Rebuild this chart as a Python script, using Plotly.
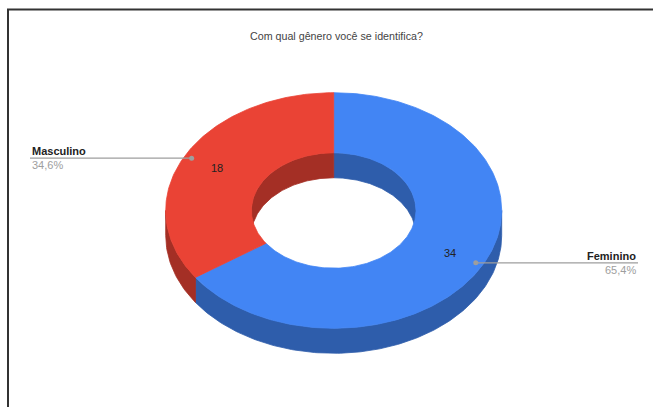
import numpy as np
import plotly.graph_objects as go

# Survey answers
labels = ["Feminino", "Masculino"]
values = [34, 18]
top_colors = ["#4285F4", "#EA4335"]
side_colors = ["#2E5DAB", "#A42F25"]
title_text = "Com qual gênero você se identifica?"

# Geometry of the tilted ring (pixel space of the canvas)
W, H = 653, 407
CX, CY = 333.7, 210.5
RX, RY = 168.0, 117.8
DEPTH = 25.0
HOLE = 0.49


def pt(theta_deg, frac, dz=0.0):
    t = np.radians(theta_deg)
    return CX + RX * frac * np.sin(t), CY - RY * frac * np.cos(t) + dz


def arc(a, b, frac, dz=0.0):
    th = np.linspace(a, b, max(int(abs(b - a)) + 2, 8))
    return pt(th, frac, dz)


def band(a, b, frac):
    """Vertical wall between an arc and the same arc pushed down by DEPTH."""
    x1, y1 = arc(a, b, frac)
    x2, y2 = arc(b, a, frac, DEPTH)
    return np.concatenate([x1, x2, x1[:1]]), np.concatenate([y1, y2, y1[:1]])


def sector(a, b):
    x1, y1 = arc(a, b, 1.0)
    x2, y2 = arc(b, a, HOLE)
    return np.concatenate([x1, x2, x1[:1]]), np.concatenate([y1, y2, y1[:1]])


def poly(x, y, color):
    return go.Scatter(x=x, y=y, mode="lines", fill="toself", fillcolor=color,
                      line=dict(color=color, width=0.8), hoverinfo="skip",
                      showlegend=False)


total = float(sum(values))
bounds = np.concatenate([[0.0], np.cumsum(values) / total * 360.0])
slices = list(zip(bounds[:-1], bounds[1:]))

fig = go.Figure()

# outer rim: front half (90..270 deg clockwise from top)
for (s, e), c in zip(slices, side_colors):
    a, b = max(s, 90.0), min(e, 270.0)
    if b > a:
        fig.add_trace(poly(*band(a, b, 1.0), c))

# inner wall: far half of the hole
for (s, e), c in zip(slices, side_colors):
    for lo, hi in ((-90.0, 90.0), (270.0, 450.0)):
        a, b = max(s, lo), min(e, hi)
        if b > a:
            fig.add_trace(poly(*band(a, b, HOLE), c))

# top faces
for (s, e), c in zip(slices, top_colors):
    fig.add_trace(poly(*sector(s, e), c))

annotations = []
shapes = []
label_font = "Liberation Sans, Arial, sans-serif"
for (s, e), lab, v in zip(slices, labels, values):
    mid = (s + e) / 2.0
    vx, vy = pt(mid, 0.785)
    annotations.append(dict(x=float(vx), y=float(vy), text=str(v), showarrow=False,
                            font=dict(family=label_font, size=11, color="#222222"),
                            xanchor="center", yanchor="middle"))
    dx, dy = pt(mid, 0.955)
    dx, dy = float(dx), float(dy)
    left = dx < CX
    end_x = 30.0 if left else 638.0
    shapes.append(dict(type="line", x0=dx, y0=dy, x1=end_x, y1=dy,
                       xref="x", yref="y", line=dict(color="#9E9E9E", width=1.2)))
    fig.add_trace(go.Scatter(x=[dx], y=[dy], mode="markers",
                             marker=dict(size=5, color="#9E9E9E"),
                             hoverinfo="skip", showlegend=False))
    pct = f"{v / total * 100:.1f}%".replace(".", ",")
    anchor = "left" if left else "right"
    annotations.append(dict(x=end_x, y=dy - 7.2, text=f"<b>{lab}</b>", showarrow=False,
                            font=dict(family=label_font, size=11, color="#222222"),
                            xanchor=anchor, yanchor="middle"))
    annotations.append(dict(x=end_x, y=dy + 7.2, text=pct, showarrow=False,
                            font=dict(family=label_font, size=11, color="#9E9E9E"),
                            xanchor=anchor, yanchor="middle"))

annotations.append(dict(x=336, y=36, text=title_text, showarrow=False,
                        font=dict(family=label_font, size=10.7, color="#444444"),
                        xanchor="center", yanchor="middle"))

# frame edges along the top and left
shapes.append(dict(type="line", x0=8, y0=H + 2, x1=8, y1=9.5, xref="x", yref="y",
                   line=dict(color="#333333", width=2)))
shapes.append(dict(type="line", x0=7, y0=9.5, x1=W + 2, y1=9.5, xref="x", yref="y",
                   line=dict(color="#333333", width=2)))

fig.update_layout(
    width=W, height=H,
    margin=dict(l=0, r=0, t=0, b=0),
    paper_bgcolor="white", plot_bgcolor="white",
    xaxis=dict(range=[0, W], visible=False, fixedrange=True),
    yaxis=dict(range=[H, 0], visible=False, fixedrange=True),
    annotations=annotations,
    shapes=shapes,
    showlegend=False,
)

fig.write_html("out.html")
